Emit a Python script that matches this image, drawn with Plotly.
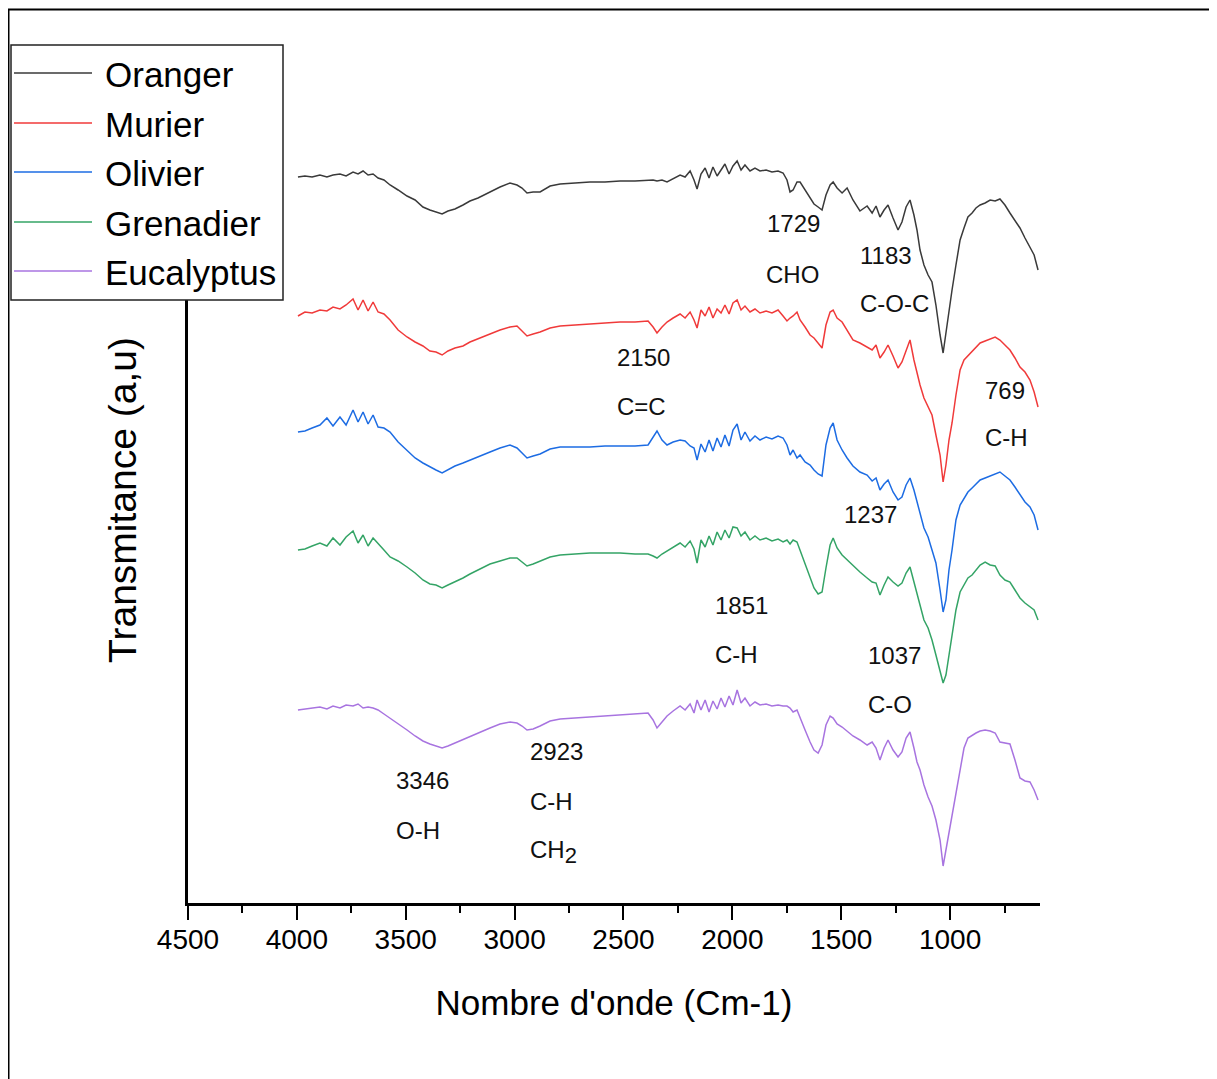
import plotly.graph_objects as go

# ---------------- data ----------------
wavenumber = [3995, 3963, 3930, 3894, 3862, 3834, 3802, 3774, 3742, 3719,
              3696, 3673, 3650, 3627, 3600, 3572, 3535, 3494, 3457, 3421,
              3389, 3361, 3333, 3306, 3274, 3237, 3205, 3168, 3113, 3067,
              3021, 2989, 2966, 2943, 2915, 2883, 2837, 2791, 2722, 2654,
              2585, 2516, 2447, 2387, 2364, 2346, 2323, 2300, 2272, 2240,
              2217, 2194, 2176, 2162, 2144, 2125, 2107, 2089, 2070, 2052,
              2034, 2015, 1997, 1978, 1960, 1942, 1919, 1896, 1873, 1845,
              1818, 1790, 1767, 1749,
              1735, 1721, 1703, 1689, 1666, 1643, 1625, 1606, 1588, 1570,
              1551, 1537, 1519, 1496, 1473, 1446, 1414, 1381, 1358, 1340,
              1322, 1303, 1285, 1262, 1239, 1221, 1202, 1184, 1166, 1152,
              1138, 1120, 1101, 1083, 1065, 1046, 1032, 1019, 1005, 991,
              973, 954, 936, 918, 899, 881, 862, 839, 816, 793,
              771, 748, 725, 702, 679, 656, 633, 614, 596]

oranger = [823, 824, 823, 825, 823, 825, 826, 824, 828, 826,
           829, 825, 826, 822, 820, 815, 810, 804, 800, 793,
           790, 788, 786, 789, 791, 795, 799, 802, 808, 813,
           817, 815, 812, 807, 808, 808, 814, 816, 817, 818,
           818, 819, 819, 820, 820, 819, 820, 818, 821, 825,
           823, 829, 820, 811, 826, 832, 822, 833, 824, 830,
           836, 826, 834, 839, 830, 835, 829, 832, 829, 830,
           828, 829, 827, 820,
           808, 810, 818, 818, 810, 801, 796, 793, 790, 805,
           815, 818, 812, 807, 812, 800, 789, 794, 787, 794,
           783, 790, 795, 782, 770, 778, 793, 800, 785, 770,
           750, 735, 725, 718, 695, 665, 647, 667, 690, 710,
           735, 760, 772, 783, 787, 792, 795, 797, 800, 799,
           801, 795, 787, 780, 772, 762, 752, 745, 730]

murier = [684, 688, 687, 690, 689, 693, 691, 695, 701, 690,
          700, 689, 698, 688, 686, 680, 670, 663, 658, 654,
          649, 648, 645, 649, 652, 654, 658, 661, 666, 670,
          673, 674, 669, 664, 666, 668, 672, 674, 675, 676,
          677, 678, 678, 679, 673, 667, 673, 678, 682, 686,
          682, 688, 680, 672, 690, 684, 693, 682, 691, 687,
          695, 686, 697, 700, 690, 694, 688, 691, 687, 689,
          687, 690, 684, 679,
          682, 684, 688, 680, 673, 665, 662, 657, 652, 675,
          688, 690, 682, 678, 670, 660, 657, 653, 650, 655,
          642, 648, 655, 644, 632, 638, 650, 660, 640, 627,
          615, 602, 594, 585, 565, 545, 518, 535, 560, 577,
          605, 630, 640, 644, 648, 652, 657, 659, 661, 663,
          660, 655, 650, 642, 633, 628, 620, 608, 593]

olivier = [568, 569, 572, 575, 582, 574, 583, 575, 590, 578,
           588, 576, 585, 573, 572, 568, 558, 550, 542, 537,
           533, 530, 527, 530, 534, 537, 540, 543, 548, 552,
           555, 552, 547, 542, 544, 546, 551, 553, 553, 553,
           554, 554, 554, 555, 563, 569, 560, 555, 558, 560,
           559, 554, 552, 540, 556, 548, 560, 549, 562, 553,
           565, 554, 570, 576, 560, 568, 559, 564, 560, 563,
           561, 564, 562, 555,
           545, 550, 542, 545, 538, 535, 530, 526, 524, 555,
           572, 577, 560, 550, 542, 534, 528, 525, 519, 522,
           510, 516, 520, 508, 500, 503, 515, 522, 510, 498,
           485, 472, 463, 450, 437, 410, 388, 400, 430, 450,
           480, 495, 502, 508, 512, 516, 520, 522, 524, 526,
           528, 524, 520, 513, 505, 498, 493, 485, 470]

grenadier = [450, 451, 454, 457, 454, 462, 455, 463, 469, 457,
             465, 454, 462, 456, 450, 443, 439, 433, 427, 420,
             416, 415, 412, 415, 418, 422, 426, 430, 436, 439,
             442, 442, 438, 434, 436, 439, 443, 445, 446, 447,
             447, 447, 446, 446, 444, 442, 446, 449, 453, 457,
             453, 459, 451, 437, 460, 453, 464, 455, 468, 460,
             470, 462, 473, 472, 464, 468, 460, 464, 460, 462,
             459, 461, 458, 460,
             456, 460, 458, 450, 435, 422, 412, 406, 408, 432,
             455, 462, 452, 445, 440, 435, 428, 422, 418, 417,
             405, 415, 423, 418, 414, 417, 427, 433, 418, 407,
             395, 380, 372, 360, 345, 330, 317, 325, 345, 360,
             390, 408, 415, 422, 425, 430, 435, 438, 435, 434,
             425, 420, 418, 410, 402, 397, 393, 390, 380]

eucalyptus = [290, 291, 292, 293, 291, 294, 292, 295, 294, 296,
              292, 293, 292, 290, 286, 282, 276, 270, 264, 259,
              256, 254, 252, 254, 257, 261, 264, 267, 272, 276,
              278, 277, 274, 270, 271, 274, 279, 281, 282, 283,
              284, 285, 286, 287, 280, 272, 278, 284, 289, 294,
              290, 296, 287, 300, 290, 300, 288, 299, 291, 302,
              293, 304, 295, 310, 297, 302, 294, 298, 295, 296,
              294, 295, 294, 294,
              292, 288, 290, 283, 270, 258, 250, 247, 255, 275,
              284, 282, 276, 273, 269, 264, 260, 255, 258, 252,
              240, 252, 260, 250, 243, 248, 262, 268, 252, 238,
              230, 215, 203, 194, 180, 160, 134, 150, 170, 185,
              210, 233, 252, 262, 265, 267, 269, 270, 269, 267,
              258, 257, 256, 240, 222, 219, 218, 210, 200]

series_names = ["Oranger", "Murier", "Olivier", "Grenadier", "Eucalyptus"]
series_values = [oranger, murier, olivier, grenadier, eucalyptus]

x_tick_values = [4500, 4000, 3500, 3000, 2500, 2000, 1500, 1000]
x_minor_tick_values = [4250, 3750, 3250, 2750, 2250, 1750, 1250, 750]

peak_labels = ["1729", "CHO", "1183", "C-O-C", "2150", "C=C", "769", "C-H",
               "1237", "1851", "C-H", "1037", "C-O", "2923", "C-H",
               "CH<sub><span style='font-size:22px'>2</span></sub>", "3346", "O-H"]
peak_label_x = [1850, 1854, 1423, 1423, 2539, 2539, 849, 849,
                1496, 2089, 2089, 1386, 1386, 2938, 2938, 2938, 3554, 3554]
peak_label_y = [777, 726, 745, 697, 643, 594, 610, 563,
                486, 395, 346, 345, 296, 249, 199, 148, 220, 170]

# ---------------- styling ----------------
colors = ["#3a3a3a", "#f03a3a", "#1d6ce3", "#34a466", "#a874e0"]
FONT = "Liberation Sans, Arial, sans-serif"

fig = go.Figure()
for name, vals, col in zip(series_names, series_values, colors):
    fig.add_trace(go.Scatter(x=wavenumber, y=vals, mode="lines", name=name,
                             line=dict(color=col, width=1.5),
                             showlegend=False, hoverinfo="skip"))

W, H = 1217, 1079
OFF = 8  # page body margin of the exported html
ML, MR, MT, MB = 188 - OFF, 185, 97 - OFF, 184
PW, PH = W - ML - MR, H - MT - MB


def px_to_paper_x(px):
    return (px - OFF - ML) / PW


def py_to_paper_y(py):
    return (H - MB - (py - OFF)) / PH


shapes = []
annotations = []

# outer frame of the picture
shapes.append(dict(type="line", xref="paper", yref="paper",
                   x0=px_to_paper_x(8.5), x1=px_to_paper_x(8.5),
                   y0=py_to_paper_y(9), y1=py_to_paper_y(1095),
                   line=dict(color="black", width=2)))
shapes.append(dict(type="line", xref="paper", yref="paper",
                   x0=px_to_paper_x(8), x1=px_to_paper_x(1212),
                   y0=py_to_paper_y(9.5), y1=py_to_paper_y(9.5),
                   line=dict(color="black", width=2)))
shapes.append(dict(type="line", xref="paper", yref="paper",
                   x0=px_to_paper_x(1213), x1=px_to_paper_x(1213),
                   y0=py_to_paper_y(10), y1=py_to_paper_y(1095),
                   line=dict(color="#bdbdbd", width=4)))

# legend box (drawn by hand to match the long line samples)
shapes.append(dict(type="rect", xref="paper", yref="paper", layer="above",
                   x0=px_to_paper_x(11), x1=px_to_paper_x(283),
                   y0=py_to_paper_y(300), y1=py_to_paper_y(45),
                   line=dict(color="#222222", width=1.5), fillcolor="white"))
legend_rows = [73, 123, 172, 222, 271]
for name, col, row in zip(series_names, colors, legend_rows):
    shapes.append(dict(type="line", xref="paper", yref="paper", layer="above",
                       x0=px_to_paper_x(14), x1=px_to_paper_x(92),
                       y0=py_to_paper_y(row), y1=py_to_paper_y(row),
                       line=dict(color=col, width=1.5)))
    annotations.append(dict(xref="paper", yref="paper",
                            x=px_to_paper_x(103), y=py_to_paper_y(row + 1),
                            xanchor="left", yanchor="middle", showarrow=False,
                            text=name, font=dict(family=FONT, size=35, color="black")))

for txt, xv, yv in zip(peak_labels, peak_label_x, peak_label_y):
    annotations.append(dict(xref="x", yref="y", x=xv, y=yv, text=txt,
                            xanchor="left", yanchor="middle", showarrow=False,
                            font=dict(family=FONT, size=24, color="#111111")))

fig.update_layout(
    width=W, height=H,
    margin=dict(l=ML, r=MR, t=MT, b=MB, pad=0),
    paper_bgcolor="white", plot_bgcolor="white",
    showlegend=False,
    shapes=shapes, annotations=annotations,
    xaxis=dict(range=[4500, 587], tickvals=x_tick_values,
               ticks="outside", ticklen=14, tickwidth=2, tickcolor="black",
               showline=True, linecolor="black", linewidth=2.5,
               showgrid=False, zeroline=False, mirror=False,
               ticklabelstandoff=-4,
               tickfont=dict(family=FONT, size=28, color="black"),
               minor=dict(tickvals=x_minor_tick_values,
                          ticks="outside", ticklen=7, tickwidth=2, tickcolor="black",
                          showgrid=False),
               title=dict(text="Nombre d'onde (Cm-1)", standoff=37,
                          font=dict(family=FONT, size=35, color="black"))),
    yaxis=dict(range=[97, 903], showticklabels=False, ticks="",
               showline=True, linecolor="black", linewidth=2.5,
               showgrid=False, zeroline=False,
               title=dict(text="Transmitance (a,u)", standoff=37,
                          font=dict(family=FONT, size=39, color="black"))),
)

fig.write_html("out.html")
